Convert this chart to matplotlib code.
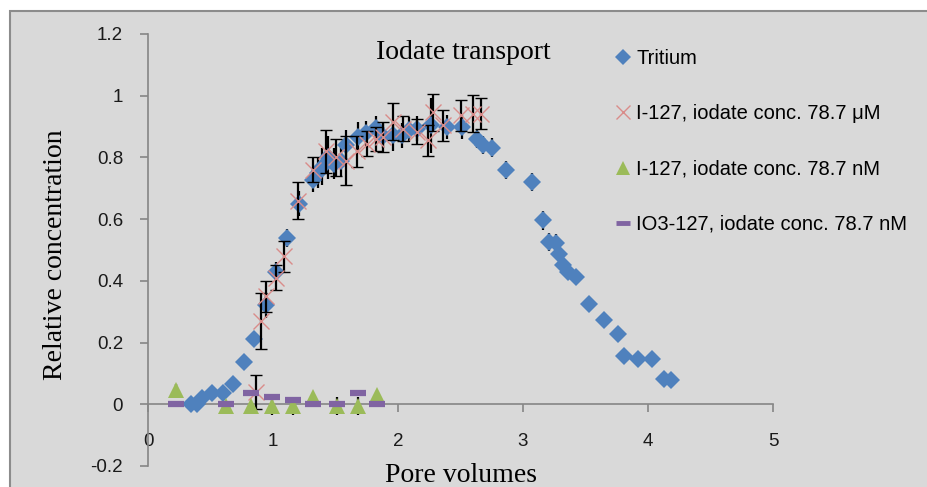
import matplotlib
matplotlib.use("Agg")
import matplotlib.pyplot as plt
from matplotlib.lines import Line2D
from matplotlib.patches import Rectangle

# Tritium
x_t = [0.34, 0.39, 0.43, 0.51, 0.60, 0.68, 0.77, 0.85, 0.94, 1.02,
       1.11, 1.21, 1.32, 1.36, 1.39, 1.44, 1.49, 1.54, 1.58, 1.68,
       1.74, 1.82, 1.88, 1.96, 2.03, 2.09, 2.15, 2.26, 2.39, 2.51,
       2.63, 2.68, 2.75, 2.86, 3.07, 3.16, 3.21, 3.26, 3.29, 3.32,
       3.36, 3.42, 3.53, 3.65, 3.76, 3.81, 3.92, 4.03, 4.13, 4.18]
y_t = [0.0, 0.0, 0.02, 0.037, 0.036, 0.065, 0.137, 0.213, 0.321, 0.43,
       0.539, 0.65, 0.728, 0.75, 0.77, 0.80, 0.78, 0.79, 0.84, 0.866,
       0.878, 0.894, 0.87, 0.872, 0.872, 0.89, 0.893, 0.904, 0.899, 0.899,
       0.861, 0.84, 0.832, 0.76, 0.72, 0.596, 0.526, 0.523, 0.488, 0.45,
       0.429, 0.413, 0.324, 0.272, 0.229, 0.156, 0.148, 0.146, 0.083, 0.078]
err_t = [0, 0, 0, 0, 0, 0, 0, 0.01, 0.04, 0.03,
         0.03, 0.04, 0.04, 0.05, 0.06, 0.07, 0.05, 0.05, 0.05, 0.05,
         0.04, 0.04, 0.04, 0.05, 0.04, 0.04, 0.04, 0.09, 0.04, 0.04,
         0.03, 0.03, 0.03, 0.03, 0.03, 0.03, 0.03, 0.03, 0.02, 0.02,
         0.02, 0.02, 0.01, 0.01, 0.01, 0.01, 0.01, 0.01, 0.01, 0.01]

# I-127, iodate 78.7 uM
x_u = [0.86, 0.90, 0.94, 1.02, 1.09, 1.20, 1.32, 1.42, 1.50, 1.58,
       1.67, 1.75, 1.82, 1.88, 1.96, 2.04, 2.15, 2.24, 2.28, 2.36,
       2.50, 2.60, 2.66]
y_u = [0.04, 0.27, 0.35, 0.41, 0.48, 0.66, 0.76, 0.82, 0.80, 0.79,
       0.82, 0.845, 0.86, 0.866, 0.915, 0.893, 0.883, 0.855, 0.947, 0.904,
       0.937, 0.942, 0.942]
err_u = [0.055, 0.09, 0.05, 0.04, 0.05, 0.06, 0.04, 0.07, 0.06, 0.08,
         0.05, 0.04, 0.04, 0.05, 0.06, 0.04, 0.04, 0.05, 0.06, 0.05,
         0.05, 0.06, 0.05]

# I-127 and IO3-127, iodate 78.7 nM
x_n = [0.22, 0.62, 0.82, 0.99, 1.16, 1.32, 1.51, 1.68, 1.83]
y_n = [0.045, -0.005, -0.005, -0.005, -0.005, 0.024, -0.005, -0.005, 0.029]
err_n = [0.02, 0, 0, 0.03, 0.03, 0.01, 0.03, 0.03, 0]
y_io = [0.0, 0.0, 0.035, 0.024, 0.015, 0.0, 0.0, 0.037, 0.0]

labels = ["Tritium", "I-127, iodate conc. 78.7 \u03bcM",
          "I-127, iodate conc. 78.7 nM", "IO3-127, iodate conc. 78.7 nM"]

c_blue = "#4f81bd"
c_red = "#d98c8a"
c_green = "#9bbb59"
c_purple = "#8064a2"
bg = "#d9d9d9"

fig = plt.figure(figsize=(9.27, 4.87), dpi=100)
fig.patch.set_facecolor("white")
fig.patches.append(Rectangle((10 / 927, -0.01), 1.0, 1 - 11 / 487 + 0.01,
                             transform=fig.transFigure, facecolor=bg,
                             edgecolor="#8c8c8c", linewidth=1.5, zorder=-10))

ax = fig.add_axes([148 / 927, 21 / 487, 625 / 927, 432 / 487])
ax.set_facecolor("none")

eb = dict(ecolor="black", elinewidth=1.6, capsize=4.5, capthick=1.8)
ax.errorbar(x_t, y_t, yerr=err_t, fmt="D", color=c_blue, markersize=9.5,
            markeredgewidth=0, zorder=3, **eb)
ax.errorbar(x_u, y_u, yerr=err_u, fmt="x", color=c_red, markersize=12,
            markeredgewidth=1.0, zorder=4, **eb)
ax.errorbar(x_n, y_n, yerr=err_n, fmt="^", color=c_green, markersize=12,
            markeredgewidth=0, zorder=5, **eb)
ax.plot(x_n, y_io, "_", color=c_purple, markersize=12, markeredgewidth=4.5,
        zorder=6)

ax.set_xlim(0, 5)
ax.set_ylim(-0.2, 1.2)
ax.set_xticks([0, 1, 2, 3, 4, 5])
ax.set_yticks([-0.2, 0, 0.2, 0.4, 0.6, 0.8, 1, 1.2])
ax.set_yticklabels(["-0.2", "0", "0.2", "0.4", "0.6", "0.8", "1", "1.2"])
ax.spines["top"].set_visible(False)
ax.spines["right"].set_visible(False)
ax.spines["bottom"].set_position(("data", 0))
for s in ("left", "bottom"):
    ax.spines[s].set_color("#868686")
    ax.spines[s].set_linewidth(1.2)
ax.tick_params(axis="both", direction="out", length=6, width=1.2,
               color="#868686", labelsize=13.5, labelcolor="#1a1a1a")
ax.tick_params(axis="x", pad=15)
ax.tick_params(axis="y", pad=12)
for t in ax.get_xticklabels() + ax.get_yticklabels():
    t.set_family("Liberation Sans")

ax.text(2.52, 1.14, "Iodate transport", family="Liberation Serif",
        fontsize=20, ha="center", va="center")
fig.text(56 / 927, 1 - 255 / 487, "Relative concentration", rotation=90,
         family="Liberation Serif", fontsize=20, ha="center", va="center")
fig.text(461 / 927, 1 - 476 / 487, "Pore volumes", family="Liberation Serif",
         fontsize=20, ha="center", va="center")

handles = [
    Line2D([], [], ls="none", marker="D", color=c_blue, markersize=8,
           markeredgewidth=0),
    Line2D([], [], ls="none", marker="x", color=c_red, markersize=10,
           markeredgewidth=1.0),
    Line2D([], [], ls="none", marker="^", color=c_green, markersize=10,
           markeredgewidth=0),
    Line2D([], [], ls="none", marker="_", color=c_purple, markersize=10,
           markeredgewidth=3.5),
]
fig.legend(handles, labels, loc="upper left",
           bbox_to_anchor=(598 / 927, 1 - 31 / 487), frameon=False,
           prop={"family": "Liberation Sans", "size": 14.5},
           handlelength=0.7, handletextpad=0.3, labelspacing=1.8)

fig.savefig("out.png", dpi=100)
